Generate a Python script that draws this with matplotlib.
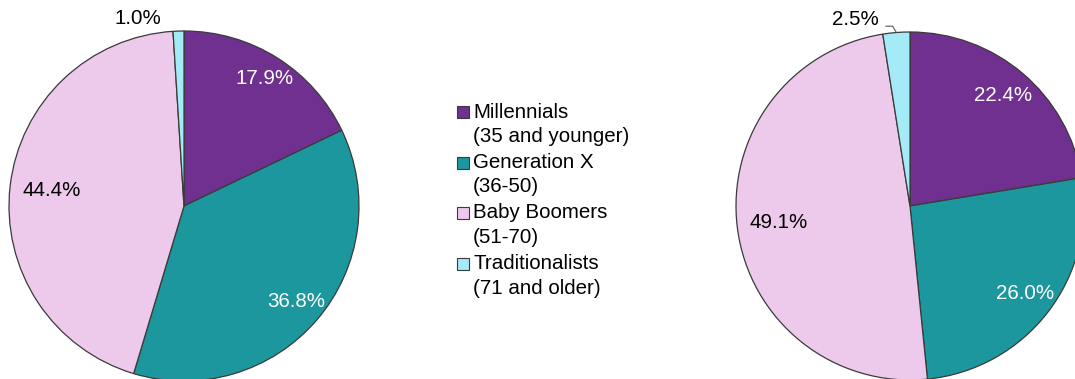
import matplotlib
matplotlib.use("Agg")
import matplotlib.pyplot as plt
from matplotlib.patches import Rectangle
import numpy as np

plt.rcParams["font.family"] = ["Liberation Sans", "DejaVu Sans"]

# Generation shares (percent)
categories = ["Millennials", "Generation X", "Baby Boomers", "Traditionalists"]
age_ranges = ["(35 and younger)", "(36-50)", "(51-70)", "(71 and older)"]
left_share = [17.9, 36.8, 44.4, 1.0]
right_share = [22.4, 26.0, 49.1, 2.5]

colors = ["#70308F", "#1C979E", "#EDCAEB", "#A4EBF7"]
text_colors = ["white", "white", "black", "black"]

W, H = 1075, 379
fig = plt.figure(figsize=(W / 100, H / 100), dpi=100)
ax = fig.add_axes([0, 0, 1, 1])

FS = 14.8


def draw_pie(values, cx, cy, r, dists, small_offset, leader):
    wedges, _ = ax.pie(values, colors=colors, startangle=90, counterclock=False,
                       center=(cx, H - cy), radius=r, frame=True,
                       wedgeprops=dict(edgecolor="#3a3a3a", linewidth=0.9))
    for i, w in enumerate(wedges):
        mid = np.deg2rad((w.theta1 + w.theta2) / 2)
        label = f"{values[i]:.1f}%"
        if dists[i] is not None:
            x = cx + dists[i] * r * np.cos(mid)
            y = H - cy + dists[i] * r * np.sin(mid)
            ax.text(x, y, label, ha="center", va="center", fontsize=FS,
                    color=text_colors[i])
        else:
            ex = cx + r * np.cos(mid)
            ey = H - cy + r * np.sin(mid)
            props = None
            if leader:
                props = dict(arrowstyle="-", color="#555555", lw=0.8,
                             relpos=(1, 0.15), shrinkA=3, shrinkB=0,
                             connectionstyle="angle,angleA=0,angleB=120,rad=0")
            ax.annotate(label, xy=(ex, ey), xytext=small_offset,
                        textcoords="offset pixels", ha="center", va="center",
                        fontsize=FS, color="black", arrowprops=props)


draw_pie(left_share, 184, 206, 175, [0.86, 0.84, 0.76, None], (-41, 13), False)
draw_pie(right_share, 910, 206, 174, [0.83, 0.83, 0.76, None], (-41, 13), True)

# Legend drawn by hand so the swatch sits on the first line
lx, ly, step, sq = 463, 112, 50.5, 12
for i, (name, rng) in enumerate(zip(categories, age_ranges)):
    y = ly + i * step
    ax.add_patch(Rectangle((lx - sq / 2, H - y - sq / 2), sq, sq,
                           facecolor=colors[i], edgecolor="#3a3a3a", lw=0.8))
    ax.text(lx + 10, H - y, name, ha="left", va="center", fontsize=FS)
    ax.text(lx + 10, H - y - 24.5, rng, ha="left", va="center", fontsize=FS)

ax.set_xlim(0, W)
ax.set_ylim(0, H)
ax.set_aspect("equal")
ax.axis("off")

fig.savefig("out.png", dpi=100, facecolor="white")
